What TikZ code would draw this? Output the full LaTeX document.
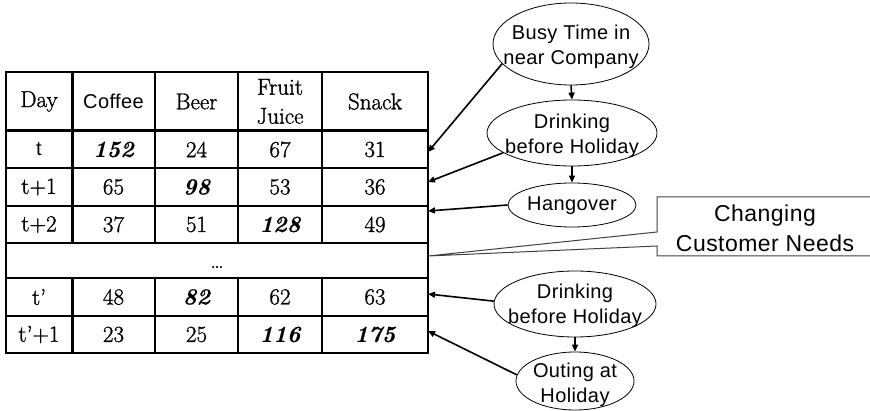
\documentclass[tikz,border=0pt]{standalone}
\usepackage{fontspec}
\setmainfont{Latin Modern Roman}[FakeBold=1.2, BoldItalicFeatures={FakeBold=0.3}]
\newfontfamily\arial{Liberation Sans}[LetterSpace=2]
\usetikzlibrary{arrows.meta,shapes.geometric}
\newcommand\hi[1]{{\bfseries\itshape #1}}
\begin{document}
\begin{tikzpicture}[x=1pt,y=-1pt,
  grid/.style={line width=1.2pt},
  heavy/.style={line width=3pt},
  cell/.style={font=\fontsize{23}{29}\selectfont, inner sep=0pt, align=center},
  sanscell/.style={cell, font=\arial\fontsize{20}{28}\selectfont},
  bubble/.style={draw, ellipse, line width=0.8pt, inner sep=0pt},
  btext/.style={font=\arial\fontsize{20}{25}\selectfont, align=center, inner sep=0pt},
  link/.style={line width=1.6pt, -{Triangle[length=7pt,width=6pt]}},
  callout/.style={draw=black!75, line width=1pt},
]
\useasboundingbox (0,0) rectangle (870,411);

% ---- table grid ----
\draw[grid] (6,72) rectangle (428,353);
\foreach \y in {168,206,243,278,316}
  \draw[grid] (6,\y) -- (428,\y);
\draw[heavy] (6,131) -- (428,131);
\foreach \x in {155,238,322} {
  \draw[grid] (\x,72) -- (\x,243);
  \draw[grid] (\x,278) -- (\x,353);
}
\draw[heavy] (72,72) -- (72,243);
\draw[heavy] (72,278) -- (72,353);

% ---- header ----
\node[cell] (h-day) at (39,101.5) {Day};
\node[sanscell] (h-coffee) at (113.5,101.5) {Coffee};
\node[cell] (h-beer) at (196.5,101.5) {Beer};
\node[cell] (h-juice) at (280,101.5) {Fruit\\Juice};
\node[cell] (h-snack) at (375,101.5) {Snack};

% ---- data rows ----
\foreach \name/\y/\d/\a/\b/\c/\e in {
    r1/149.5/{\arial\fontsize{20}{28}\selectfont t}/{\hi{152}}/24/67/31,
    r2/187/{t+1}/65/{\hi{98}}/53/36,
    r3/224.5/{t+2}/37/51/{\hi{128}}/49,
    r4/297/{t'}/48/{\hi{82}}/62/63,
    r5/334.5/{t'+1}/23/25/{\hi{116}}/{\hi{175}}} {
  \node[cell] (\name-day) at (39,\y) {\d};
  \node[cell] (\name-coffee) at (113.5,\y) {\a};
  \node[cell] (\name-beer) at (196.5,\y) {\b};
  \node[cell] (\name-juice) at (280,\y) {\c};
  \node[cell] (\name-snack) at (375,\y) {\e};
}
\node[cell, anchor=base] (gap) at (217,268) {\dots};

% ---- entry points on the right edge of the table ----
\coordinate (in1) at (428,152);
\coordinate (in2) at (428,182);
\coordinate (in3) at (428,211);
\coordinate (in4) at (428,294);
\coordinate (in5) at (428,331);
\coordinate (tip) at (428,256);

% ---- causes ----
\node[bubble, minimum width=156pt, minimum height=82pt] (e1) at (571,44) {};
\node[btext] (e1t) at (571,46.5) {Busy Time in\\near Company};
\node[bubble, minimum width=170pt, minimum height=66pt] (e2) at (572,133) {};
\node[btext] (e2t) at (572,135.5) {Drinking\\before Holiday};
\node[bubble, minimum width=128pt, minimum height=44pt] (e3) at (572,205) {};
\node[btext] (e3t) at (572,206) {Hangover};
\node[bubble, minimum width=162pt, minimum height=66pt] (e4) at (575,304) {};
\node[btext] (e4t) at (575,305.5) {Drinking\\before Holiday};
\node[bubble, minimum width=118pt, minimum height=58pt] (e5) at (575,381) {};
\node[btext] (e5t) at (575,384.5) {Outing at\\Holiday};

\draw[link] (e1.south) -- (e2.north);
\draw[link] (e2.south) -- (e3.north);
\draw[link] (e4.south) -- (e5.north);

\draw[link] (e1.196) -- (in1);
\draw[link] (e2.196) -- (in2);
\draw[link] (e3.west) -- (in3);
\draw[link] (e4.178) -- (in4);
\draw[link] (e5.174) -- (in5);

% ---- callout ----
\draw[callout] (875,197) -- (657,197) -- (657,232) -- (tip) -- (657,246)
  -- (657,256) -- (875,256);
\node[font=\arial\fontsize{23}{30}\selectfont, align=center, inner sep=0pt]
  (needs) at (765,228) {Changing\\Customer Needs};
\end{tikzpicture}
\end{document}
